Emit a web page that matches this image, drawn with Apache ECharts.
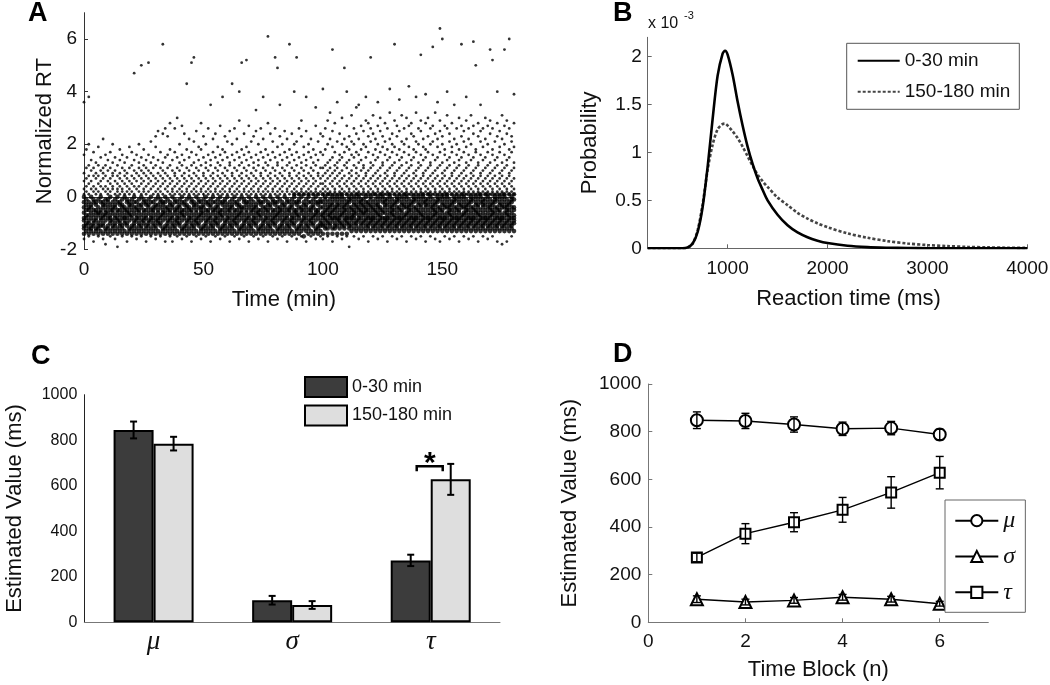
<!DOCTYPE html>
<html><head><meta charset="utf-8">
<script src="https://cdn.jsdelivr.net/npm/echarts@6/dist/echarts.min.js"></script>
<style>html,body{margin:0;padding:0;background:#fff}#c{width:1050px;height:685px}</style>
</head><body><div id="c"></div>
<script>
// ---------------- DATA ----------------
// Panel A: one string per minute (index = minute 0..180); each char = one trial's normalized RT,
// y = -2 + 0.1 * (position of the char in A_ALPHABET). A_CORE = dense band, A_HALO = scattered trials.
const A_ALPHABET = "#$%&'()*+,-./0123456789:;<=>?@ABCDEFGHIJKLMNOPQRSTUVWXYZ[]^_`abcdefghijklmnopqrstuvwxyz{|}~";
const A_X_TICKS = [0, 50, 100, 150];
const A_Y_TICKS = [-2, 0, 2, 4, 6];
const A_CORE = [
")+,./1357","*,-/0246",")+-.0235","*+,/1347","),-.0256","*+./1245",")+,-0136","*,./1257","),-/0345","*+.01246",
")+,/1356","*-./0247",")+,.1235","*,-/0346",")+./1257","*,-.0245",")+,/1346","*-./0237","),-/1256","*+.01345",
")+,/0246","*,-.1357",")+./0235","*,-/1246",")+,.0347","*-./1256",")+,/0245","*,-.1346",")+./0257","*,-/1235",
")+,.0346","*-./1247","),-/0356","*+.01245",")+,/1357","*,-.0236",")+./1245","*,-/0347",")+,.1256","*-./0235",
"),-/1346","*+.01257",")+,/0245","*,-.1346",")+./0237","*,-/1256",")+,.0345","*-./1247","),-/0356","*+.01235",
")+,/1346","*,-.0257",")+./1245","*,-/0346",")+,.1257","*-./0235","),-/1346","*+.01257",")+,/0245","*,-.1356",
")+./0247","*,-/1235",")+,.0346","*-./1257","),-/0245","*+.01346",")+,/1237","*,-.0356",")+./1245","*,-/0357",
")+,.1246","*-./0235","),-/1347","*+.01256",")+,/0245","*,-.1357",")+./0236","*,-/1245",")+,.0347","*-./1256",
"),-/0245","*+.01357",")+,/1236","*,-.0245",")+./1347","*,-/0256",")+,.1235","*-./0346","),-/12578","*+.01245",
")+,/03568","*,-.1237","(+./02458","*,-/1346",")+,.02578","*-./1235","),-/03468","*+.01257",")+,/12458","*,-.0356",
"),-/01358","+,./12467",")+-.02358",",-/013468",")+./12457","+,-/02368","),./13457","+-./02468","),-013578","+,./12346",
")-./02458","+,-/13567","*,./02368","+-/012457","*,-.13468","+./023578","*,-/12456","+-.013468","*,./12357","+,-/02458",
"*-./13467","+,./02358","*,-/12468","+-.013457","*,./02368","+,-/12578","*-./13456","+,./02468","*,-/13578","+-.012346",
"*,./02458","+,-/13567","*-./02368","+,./12457","*,-/03468","+-.013578","*,./12346","+,-/02458","*-./13567","+,./02368",
"*,-/12457","+-.013468","*,./02578","+,-/13456","*-./02468","+,./13578","*,-/02346","+-.012458","*,./13567","+,-/02368",
"*-./12457","+,./03468","*,-/13578","+-.012346","*,./02458","+,-/13567","*-./02368","+,./12457","*,-/03468","+-.013578",
"*,./12346","+,-/02458","*-./13567","+,./02368","*,-/12457","+-.013468","*,./02578","+,-/13456","*-./02468","+,./13578",
"*,-/02346","+-.012458","*,./13567","+,-/02368","*-./12457","+,./03468","*,-/13578","+-.012346","*,./02458","+,-/13567","*-./02368"
];
const A_HALO = [
"'8:=@G[","9;>BI","(8<?CK^",":=AE","&9;?BH","8:>@D","(9<?CJ","8;=AF","':>@BM","%9;?CG",
"8:=AE","(9<>BH",":;?@DK","'8=AF","$9:<?C","8;>@EI","(9:=BG","8<?AD","&9;>@F","8:=BJ",
"(9<?CH","8;>AEg","':=@G","9;?BDK","(8<>AFj","9:=@CI","&8;?BE","9<>AGk","(:=@DL","8;?BF",
"'9<>CJN","8:=@EP","(9;?BH","8<>ADOr","&:=@FQ","9;?BGN","(8<>CIS","&9:=AE","8;?@HQ","(9<>BFU",
"8:=ADK","'9;?CGR","8<>@EO","(9:=BIc","8;?AFM","&9<>CHk","8:=@DLm","(9;?BGP","8<>AEJ","'9:=CIS",
"8;?@FN","(9<>BDK","8:=AGQ","&9;?CEZ","8<>@HM","(9:=BFO","8;?ADJ","'9<>CGR","8:=@EI^","(9;?BHN",
"8<>AFL","&9:=CDP","8;?@GKc","(9<>BEQ","8:=AHM","'9;?CFT`","8<>@DIk","(9:=BGO","8;?AEJl","&9<>CHR",
"8:=@FL","(9;?BDN","8<>AGPX","'9:=CEK","8;?@HQ","(9<>BFM^","8:=ADI","&9;?CGSu","8<>@EO","(9:=BHL",
"8;?AFQm","'9<>CDJi","8:=@GNZ","(9;?BEK","8<>AHP","&9:=CFM","8;?@DIr","(9<>BGO","8:=AEK`","'9;?CHLm",
"8<>@FQ","(9:=BDNT","8;?AGJ","&9<>CEP^","8:=@HK","(9;?BFM","8<>ADI","'9:=CGRY","8;?@EL","(9<>BHO",
"'8:<?BGNa","9;=@CIQ","(8:>ADKT","9<?BEMW","&8;=@FJPp","9:>ACHS","(8<?BDL[","9;=@EGO","'8:>AFKU","9<?CHMi",
"(8;=BDJR`","$9:>@EIN","8<?AGLV","(9;=CFKQ","8:>@BHOY","'9<?DGMZ","8;=AEIR","(9:>BCKP","8<?@FJT^","&9;=AHNS",
"8:>BDLQm","(9<?CGOV","8;=@EIM","'9:>AFKR[","8<?BHPU","(9;=CDJN","8:>@GLS","&9<?AEIQ","8;=BFMWa","(9:>CHKO",
"8<?@DJTr","'9;=AGNR","8:>BEIP]","(9<?CFLV","8;=@HKQ","&9:>ADMU","8<?BGJRb","(9;=CEOS","8:>@FIN","'9<?AHLW^",
"8;=BDKQ","(9:>CGPTn","8<?@EJM","&9;=AFIS_","8:>BHNU","(9<?CDKQ","8;=@GLRq","'9:>AEOW","8<?BFJM[","&9;=CHPTx",
"8:>@DKNt","(9<?AGIR","8;=BEQV`","'9:>CFLO","8<?@HJS","(9;=ADMZ","8:>BGKQ","&9<?CEIU","8;=@FNRr","(9:>AHLP",
"8<?BDJT^","'9;=CGMQ","8:>@EKV","(9<?AFORs","8;=BHIj","&9:>CDNS","8<?@GLPZ","(9;=AEJQ","8:>BFMU","'9<?CHKR",
"8;=@DOTp","(9:>AGIQl","8<?BEL","&9;=CFNS`","8:>@HJP","%9<?ADMV","8;=BGKRp","&9:>CEOT","8<?@FIQt","(9;=AHLN","8:>BDJS_"
];

// Panel B: probability density (x 10^-3) vs reaction time (ms)
const B_X_TICKS = [1000, 2000, 3000, 4000];
const B_Y_TICKS = [0, 0.5, 1, 1.5, 2];
const B_RT    = [200, 550, 600, 650, 700, 750, 800, 850, 900, 950, 975, 1000, 1050, 1100, 1150, 1200, 1250, 1300, 1350, 1400, 1500, 1600, 1700, 1800, 1900, 2000, 2200, 2400, 2600, 2800, 3000, 3200, 3400, 3600, 3800, 4000];
const B_EARLY = [0, 0, 0.01, 0.05, 0.17, 0.43, 0.85, 1.35, 1.80, 2.03, 2.06, 2.02, 1.81, 1.53, 1.28, 1.06, 0.88, 0.73, 0.61, 0.50, 0.35, 0.24, 0.165, 0.115, 0.08, 0.055, 0.026, 0.012, 0.006, 0.003, 0.0013, 0.0006, 0.0003, 0.0001, 0, 0];
const B_LATE  = [0, 0, 0.005, 0.05, 0.19, 0.46, 0.82, 1.08, 1.24, 1.295, 1.30, 1.28, 1.22, 1.15, 1.06, 0.96, 0.86, 0.77, 0.70, 0.64, 0.53, 0.45, 0.37, 0.31, 0.26, 0.22, 0.155, 0.11, 0.075, 0.05, 0.034, 0.023, 0.015, 0.01, 0.006, 0.004];
const B_NAMES = ['0-30 min', '150-180 min'];

// Panel C: estimated ex-Gaussian parameters (ms)
const C_PARAMS = ['μ', 'σ', 'τ'];
const C_EARLY = [845, 97, 272];
const C_EARLY_ERR = [37, 19, 25];
const C_LATE = [785, 76, 628];
const C_LATE_ERR = [30, 17, 68];
const C_SIG = [[2, 686]]; // significance bracket over τ

// Panel D: parameters by time block
const D_BLOCKS = [1, 2, 3, 4, 5, 6];
const D_X_TICKS = [0, 2, 4, 6];
const D_MU = [848, 845, 830, 812, 815, 788];
const D_MU_ERR = [35, 32, 32, 28, 28, 22];
const D_SIGMA = [97, 85, 92, 105, 97, 78];
const D_SIGMA_ERR = [14, 12, 12, 12, 12, 10];
const D_TAU = [272, 372, 420, 472, 545, 628];
const D_TAU_ERR = [18, 42, 40, 52, 66, 68];

// ---------------- CHART ----------------
const FONT = '"Liberation Sans", Arial, Helvetica, sans-serif';
const SERIF = '"Liberation Serif", "Times New Roman", serif';
function decodeCols(cols) {
  const pts = [];
  cols.forEach((col, minute) => {
    for (const ch of col) pts.push([minute, +(-2 + A_ALPHABET.indexOf(ch) * 0.1).toFixed(2)]);
  });
  return pts;
}
function errRender(offset, cap, lw) {
  return function (params, api) {
    const x = api.value(0), v = api.value(1), e = api.value(2);
    const hi = api.coord([x, v + e]), lo = api.coord([x, v - e]);
    const cx = hi[0] + offset;
    const st = {stroke: '#000', lineWidth: lw};
    return {type: 'group', children: [
      {type: 'line', shape: {x1: cx, y1: hi[1], x2: cx, y2: lo[1]}, style: st},
      {type: 'line', shape: {x1: cx - cap, y1: hi[1], x2: cx + cap, y2: hi[1]}, style: st},
      {type: 'line', shape: {x1: cx - cap, y1: lo[1], x2: cx + cap, y2: lo[1]}, style: st}
    ]};
  };
}
const plain = (v) => String(v);
function vAxis(grid, color, extra) {
  return Object.assign({
    gridIndex: grid, type: 'value', splitLine: {show: false},
    axisLine: {show: true, lineStyle: {color: color, width: 1}},
    axisTick: {show: true, inside: true, length: 4, lineStyle: {color: color}},
    axisLabel: {color: '#111', fontFamily: FONT, fontSize: 19, formatter: plain},
    nameLocation: 'middle',
    nameTextStyle: {color: '#111', fontFamily: FONT, fontSize: 22}
  }, extra);
}
const pick = (name) => name.split('|')[1];

const chart = echarts.init(document.getElementById('c'));
const option = {
  animation: false,
  backgroundColor: '#fff',
  textStyle: {fontFamily: FONT},
  grid: [
    {left: 84, top: 12.7, width: 430, height: 236.8, outerBoundsMode: 'none'},
    {left: 647.7, top: 37.3, width: 379.6, height: 211, outerBoundsMode: 'none'},
    {left: 84.3, top: 394.7, width: 415.7, height: 227.6, outerBoundsMode: 'none'},
    {left: 648.3, top: 384, width: 340, height: 238.3, outerBoundsMode: 'none'}
  ],
  xAxis: [
    vAxis(0, '#333', {min: 0, max: 180, name: 'Time (min)', nameGap: 39,
      nameTextStyle: {color: '#111', fontFamily: FONT, fontSize: 22, padding: [0, 30, 0, 0]},
      axisLabel: {customValues: A_X_TICKS, formatter: plain, color: '#111', fontFamily: FONT, fontSize: 19, margin: 11},
      axisTick: {show: true, inside: true, length: 4, customValues: A_X_TICKS, lineStyle: {color: '#333'}}}),
    vAxis(1, '#666', {min: 200, max: 4000, name: 'Reaction time (ms)', nameGap: 40,
      nameTextStyle: {color: '#111', fontFamily: FONT, fontSize: 22, padding: [0, 0, 0, 22]},
      axisLabel: {customValues: B_X_TICKS, formatter: plain, color: '#111', fontFamily: FONT, fontSize: 19, margin: 11},
      axisTick: {show: true, inside: true, length: 4, customValues: B_X_TICKS, lineStyle: {color: '#666'}}}),
    {gridIndex: 2, type: 'category', data: C_PARAMS,
      axisLine: {show: true, lineStyle: {color: '#777'}}, axisTick: {show: false},
      axisLabel: {color: '#111', fontFamily: SERIF, fontStyle: 'italic', fontSize: 27, margin: 6}},
    vAxis(3, '#777', {min: 0, max: 7, name: 'Time Block (n)', nameGap: 37,
      axisLabel: {customValues: D_X_TICKS, formatter: plain, color: '#111', fontFamily: FONT, fontSize: 19, margin: 10},
      axisTick: {show: true, inside: true, length: 4, customValues: D_X_TICKS, lineStyle: {color: '#777'}}})
  ],
  yAxis: [
    vAxis(0, '#333', {min: -2, max: 7, name: 'Normalized RT', nameGap: 28,
      axisLabel: {customValues: A_Y_TICKS, formatter: plain, color: '#111', fontFamily: FONT, fontSize: 19, margin: 7},
      axisTick: {show: true, inside: true, length: 4, customValues: A_Y_TICKS, lineStyle: {color: '#333'}}}),
    vAxis(1, '#666', {min: 0, max: 2.2, name: 'Probability', nameGap: 47,
      axisLabel: {customValues: B_Y_TICKS, formatter: plain, color: '#111', fontFamily: FONT, fontSize: 19, margin: 6},
      axisTick: {show: true, inside: true, length: 4, customValues: B_Y_TICKS, lineStyle: {color: '#666'}}}),
    vAxis(2, '#222', {min: 0, max: 1000, interval: 200, name: 'Estimated Value (ms)', nameGap: 58,
      axisTick: {show: false},
      axisLabel: {formatter: plain, color: '#111', fontFamily: FONT, fontSize: 16, margin: 7},
      nameTextStyle: {color: '#111', fontFamily: FONT, fontSize: 22}}),
    vAxis(3, '#777', {min: 0, max: 1000, interval: 200, name: 'Estimated Value (ms)', nameGap: 67,
      axisLabel: {formatter: plain, color: '#111', fontFamily: FONT, fontSize: 19, margin: 7}})
  ],
  legend: [
    {data: B_NAMES.map(n => 'B|' + n), formatter: pick, orient: 'vertical', left: 846.7, top: 43.3,
      itemWidth: 42, itemHeight: 14, itemGap: 12, padding: [8, 9, 8, 10],
      borderColor: '#555', borderWidth: 1, backgroundColor: '#fff', selectedMode: false,
      itemStyle: {opacity: 0},
      textStyle: {fontFamily: FONT, fontSize: 19, color: '#111'}},
    {data: B_NAMES.map(n => 'C|' + n), formatter: pick, orient: 'vertical', left: 304, top: 376,
      itemWidth: 42, itemHeight: 20, itemGap: 6.5, padding: 0, icon: 'rect', selectedMode: false,
      itemStyle: {borderColor: '#000', borderWidth: 2},
      textStyle: {fontFamily: FONT, fontSize: 18, color: '#111'}},
    {data: C_PARAMS.map(n => 'D|' + n), formatter: pick, orient: 'vertical', left: 945, top: 500,
      itemWidth: 43, itemHeight: 14, itemGap: 11.8, padding: [8.7, 10, 8, 9.3],
      borderColor: '#666', borderWidth: 1, backgroundColor: '#fff', selectedMode: false,
      textStyle: {fontFamily: SERIF, fontStyle: 'italic', fontSize: 24, color: '#111'}}
  ],
  graphic: [
    {type: 'text', left: 28, top: 0, style: {text: 'A', font: 'bold 27px ' + FONT, fill: '#000'}},
    {type: 'text', left: 613, top: 0, style: {text: 'B', font: 'bold 27px ' + FONT, fill: '#000'}},
    {type: 'text', left: 31, top: 343, style: {text: 'C', font: 'bold 27px ' + FONT, fill: '#000'}},
    {type: 'text', left: 613, top: 341, style: {text: 'D', font: 'bold 27px ' + FONT, fill: '#000'}},
    {type: 'text', left: 648, top: 16, style: {text: 'x 10', font: '16px ' + FONT, fill: '#111'}},
    {type: 'text', left: 684, top: 10, style: {text: '-3', font: '11px ' + FONT, fill: '#111'}}
  ],
  series: [
    {type: 'scatter', xAxisIndex: 0, yAxisIndex: 0, data: decodeCols(A_CORE), symbolSize: 4.6,
      itemStyle: {color: '#000'}, silent: true},
    {type: 'scatter', xAxisIndex: 0, yAxisIndex: 0, data: decodeCols(A_HALO), symbolSize: 2.8,
      itemStyle: {color: '#000'}, silent: true},

    {type: 'line', name: 'B|' + B_NAMES[0], xAxisIndex: 1, yAxisIndex: 1, smooth: 0.3, symbol: 'none',
      data: B_RT.map((t, i) => [t, B_EARLY[i]]), lineStyle: {color: '#000', width: 2.6}, itemStyle: {color: '#000'}, z: 3},
    {type: 'line', name: 'B|' + B_NAMES[1], xAxisIndex: 1, yAxisIndex: 1, smooth: 0.3, symbol: 'none',
      data: B_RT.map((t, i) => [t, B_LATE[i]]), lineStyle: {color: '#444', width: 2.6, type: [3, 2]}, itemStyle: {color: '#444'}, z: 2},

    {type: 'bar', name: 'C|' + B_NAMES[0], xAxisIndex: 2, yAxisIndex: 2, data: C_EARLY, barWidth: 40, barGap: '0%',
      itemStyle: {color: '#3c3c3c', borderColor: '#000', borderWidth: 2}},
    {type: 'bar', name: 'C|' + B_NAMES[1], xAxisIndex: 2, yAxisIndex: 2, data: C_LATE, barWidth: 40, barGap: '0%',
      itemStyle: {color: '#dedede', borderColor: '#000', borderWidth: 2}},
    {type: 'custom', xAxisIndex: 2, yAxisIndex: 2, z: 5, renderItem: errRender(-20, 3.5, 2),
      data: C_EARLY.map((v, i) => [i, v, C_EARLY_ERR[i]])},
    {type: 'custom', xAxisIndex: 2, yAxisIndex: 2, z: 5, renderItem: errRender(20, 3.5, 2),
      data: C_LATE.map((v, i) => [i, v, C_LATE_ERR[i]])},
    {type: 'custom', xAxisIndex: 2, yAxisIndex: 2, z: 5, data: C_SIG,
      renderItem: function (params, api) {
        const p = api.coord([api.value(0), api.value(1)]);
        const x1 = p[0] - 14, x2 = p[0] + 12, y = p[1];
        return {type: 'group', children: [
          {type: 'polyline', shape: {points: [[x1, y + 5], [x1, y], [x2, y], [x2, y + 5]]},
            style: {stroke: '#000', lineWidth: 2.5, fill: null}},
          {type: 'text', x: p[0] - 1, y: y - 2,
            style: {text: '*', font: 'bold 30px ' + FONT, fill: '#000', align: 'center', verticalAlign: 'middle'}}
        ]};
      }},

    {type: 'custom', xAxisIndex: 3, yAxisIndex: 3, z: 6, renderItem: errRender(0, 4, 1.4),
      data: D_BLOCKS.map((b, i) => [b, D_MU[i], D_MU_ERR[i]])},
    {type: 'custom', xAxisIndex: 3, yAxisIndex: 3, z: 6, renderItem: errRender(0, 4, 1.4),
      data: D_BLOCKS.map((b, i) => [b, D_SIGMA[i], D_SIGMA_ERR[i]])},
    {type: 'custom', xAxisIndex: 3, yAxisIndex: 3, z: 6, renderItem: errRender(0, 4, 1.4),
      data: D_BLOCKS.map((b, i) => [b, D_TAU[i], D_TAU_ERR[i]])},
    {type: 'line', name: 'D|' + C_PARAMS[0], xAxisIndex: 3, yAxisIndex: 3, symbol: 'emptyCircle', symbolSize: 12,
      data: D_BLOCKS.map((b, i) => [b, D_MU[i]]), lineStyle: {color: '#000', width: 1.4},
      itemStyle: {color: '#000', borderWidth: 1.4}},
    {type: 'line', name: 'D|' + C_PARAMS[1], xAxisIndex: 3, yAxisIndex: 3, symbol: 'emptyTriangle', symbolSize: 12,
      data: D_BLOCKS.map((b, i) => [b, D_SIGMA[i]]), lineStyle: {color: '#000', width: 1.4},
      itemStyle: {color: '#000', borderWidth: 1.4}},
    {type: 'line', name: 'D|' + C_PARAMS[2], xAxisIndex: 3, yAxisIndex: 3, symbol: 'emptyRect', symbolSize: 10,
      data: D_BLOCKS.map((b, i) => [b, D_TAU[i]]), lineStyle: {color: '#000', width: 1.4},
      itemStyle: {color: '#000', borderWidth: 1.4}}
  ]
};
chart.setOption(option);
</script>
</body></html>
